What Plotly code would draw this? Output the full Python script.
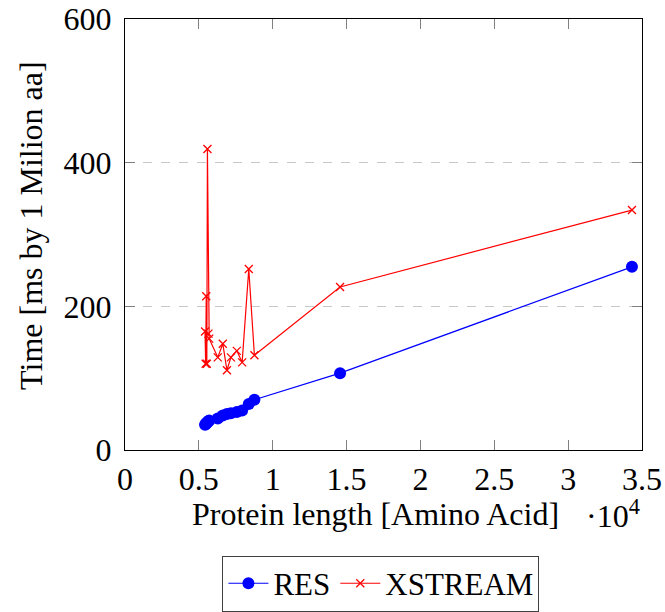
import plotly.graph_objects as go

# Protein lengths (amino acids) and processing times (ms per 1 million aa)
protein_length = [5420, 5460, 5500, 5540, 5580, 5650, 5700, 6280, 6620, 6900,
                  7170, 7570, 7930, 8380, 8760, 14560, 34320]
res_time = [35, 36, 37, 38, 39, 40, 41, 44, 48, 50, 51, 53, 55, 64, 70, 107, 255]
xstream_time = [165, 120, 214, 120, 419, 162, 155, 129, 148, 111, 129, 138, 122,
                252, 132, 227, 334]

x_tick_vals = [0, 5000, 10000, 15000, 20000, 25000, 30000, 35000]
x_tick_text = ["0", "0.5", "1", "1.5", "2", "2.5", "3", "3.5"]
y_tick_vals = [0, 200, 400, 600]

FONT = "'Liberation Serif', 'DejaVu Serif', serif"
FS = 32

fig = go.Figure()
fig.add_trace(go.Scatter(
    x=protein_length, y=res_time, name="RES", mode="lines+markers",
    line=dict(color="#0000ff", width=1.2),
    marker=dict(symbol="circle", size=12, color="#0000ff"),
))
fig.add_trace(go.Scatter(
    x=protein_length, y=xstream_time, name="XSTREAM", mode="lines+markers",
    line=dict(color="#ff0000", width=1.2),
    marker=dict(symbol="x-thin", size=8, line=dict(color="#ff0000", width=1.3)),
))

fig.update_layout(
    width=665, height=612,
    margin=dict(l=125, r=23, t=19, b=162, autoexpand=False),
    plot_bgcolor="white", paper_bgcolor="white",
    font=dict(family=FONT, size=FS, color="black"),
    showlegend=True,
    legend=dict(
        orientation="h", x=0.495, xanchor="center", y=-0.245, yanchor="top",
        bgcolor="white", bordercolor="#404040", borderwidth=1,
        font=dict(family=FONT, size=31), itemwidth=40, tracegroupgap=0,
    ),
    xaxis=dict(
        range=[0, 35000], tickvals=x_tick_vals, ticktext=x_tick_text,
        showline=True, linecolor="black", linewidth=1.2, mirror="ticks",
        ticks="inside", ticklen=10, tickcolor="#808080", tickwidth=1,
        showgrid=False, zeroline=False, tickfont=dict(family=FONT, size=FS),
    ),
    yaxis=dict(
        range=[0, 600], tickvals=y_tick_vals,
        showline=True, linecolor="black", linewidth=1.2, mirror="ticks",
        ticks="inside", ticklen=10, tickcolor="#808080", tickwidth=1,
        showgrid=True, gridcolor="#c8c8c8", griddash="dash", gridwidth=1,
        zeroline=False, tickfont=dict(family=FONT, size=FS),
        ticklabelstandoff=6,
    ),
)

# Axis titles and the x-axis scale factor
fig.add_annotation(
    text="Protein length [Amino Acid]", xref="paper", yref="paper",
    x=0.126, y=-0.148, xanchor="left", yanchor="middle", showarrow=False,
    font=dict(family=FONT, size=FS),
)
fig.add_annotation(
    text="·10<sup>4</sup>", xref="paper", yref="paper",
    x=1.0, y=-0.148, xanchor="right", yanchor="middle", showarrow=False,
    font=dict(family=FONT, size=FS),
)
fig.add_annotation(
    text="Time [ms by 1 Milion aa]", xref="paper", yref="paper",
    x=-0.182, y=0.522, xanchor="center", yanchor="middle", textangle=-90,
    showarrow=False, font=dict(family=FONT, size=FS),
)

fig.write_html("out.html")
